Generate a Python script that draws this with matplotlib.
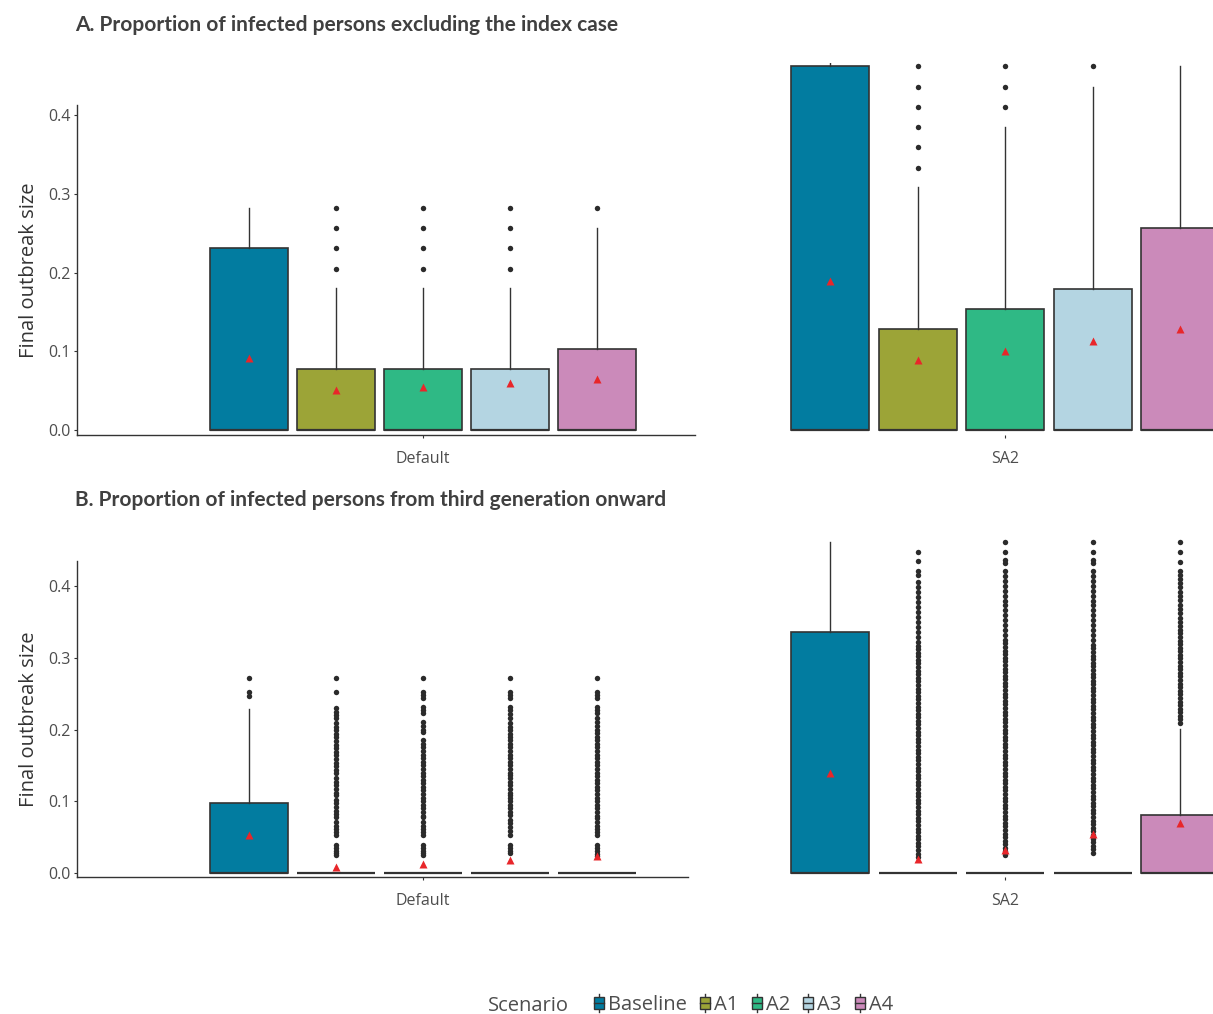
import numpy as np
import matplotlib.pyplot as plt
from matplotlib.legend_handler import HandlerBase
from matplotlib.patches import Rectangle
from matplotlib.lines import Line2D

plt.rcParams['font.family'] = ['Open Sans', 'DejaVu Sans']

W, H = 1213, 1014

scenarios = ['Baseline', 'A1', 'A2', 'A3', 'A4']
colors = ['#027ca0', '#9ca437', '#2fb985', '#b4d5e2', '#cb8aba']

# A: proportion infected excluding the index case -- Default
a_def_q3 = [0.231, 0.077, 0.077, 0.077, 0.103]
a_def_whi = [0.282, 0.180, 0.180, 0.180, 0.256]
a_def_mean = [0.091, 0.051, 0.055, 0.060, 0.065]
a_def_out = [[], [282, 256, 231, 205], [282, 256, 231, 205],
             [282, 256, 231, 205], [282]]

# A -- SA2
a_sa2_q3 = [0.462, 0.128, 0.154, 0.179, 0.256]
a_sa2_whi = [0.487, 0.308, 0.385, 0.436, 0.462]
a_sa2_mean = [0.189, 0.089, 0.100, 0.113, 0.128]
a_sa2_out = [[], [333, 359, 385, 410, 436, 462], [410, 436, 462], [462], []]

# B: proportion infected from third generation onward -- Default
b_def_q3 = [0.097, 0.0, 0.0, 0.0, 0.0]
b_def_whi = [0.229, 0.0, 0.0, 0.0, 0.0]
b_def_mean = [0.053, 0.009, 0.012, 0.018, 0.023]
b_def_out = [
    [272, 252, 247],
    [272, 252, 230, 225, 220, 216, 209, 204, 199, 194, 189, 184, 179, 174,
     169, 164, 159, 154, 149, 144, 139, 132, 127, 122, 117, 112, 109, 102,
     97, 92, 87, 82, 78, 71, 66, 61, 57, 53, 39, 35, 31, 28, 25],
    [272, 252, 248, 244, 231, 227, 223, 210, 205, 200, 196, 185, 180, 175,
     170, 165, 160, 155, 150, 145, 140, 135, 130, 125, 120, 115, 110, 105,
     100, 95, 90, 85, 80, 78, 71, 66, 61, 57, 53, 39, 35, 31, 28, 25],
    [272, 252, 248, 244, 231, 227, 222, 216, 209, 204, 199, 194, 190, 185,
     180, 175, 170, 165, 160, 155, 150, 145, 140, 137, 132, 127, 122, 117,
     112, 109, 105, 100, 95, 90, 85, 81, 74, 69, 64, 59, 53, 39, 35, 31, 28],
    [272, 252, 248, 244, 231, 227, 223, 216, 210, 205, 200, 195, 190, 185,
     180, 175, 170, 165, 160, 155, 150, 145, 140, 135, 130, 125, 120, 115,
     110, 105, 100, 95, 90, 85, 80, 77, 71, 66, 61, 57, 53, 39, 35, 31, 27, 24],
]

# B -- SA2
b_sa2_q3 = [0.3355, 0.0, 0.0, 0.0, 0.081]
b_sa2_whi = [0.462, 0.0, 0.0, 0.0, 0.201]
b_sa2_mean = [0.140, 0.020, 0.032, 0.054, 0.069]
b_sa2_out = [
    [],
    [447, 435, 421, 415, 406, 399, 392, 385, 378, 371, 364, 357, 350, 343,
     336, 329, 322, 317, 312, 307, 302, 297, 292, 287, 282, 277, 272, 267,
     262, 257, 252, 247, 242, 237, 232, 227, 222, 217, 212, 207, 202, 197,
     192, 187, 182, 177, 172, 167, 162, 157, 152, 147, 142, 137, 132, 127,
     122, 117, 112, 107, 102, 97, 92, 87, 82, 77, 72, 67, 62, 57, 52, 47,
     42, 37, 32, 27, 22],
    [462, 448, 436, 432, 421, 414, 407, 400, 393, 386, 379, 374, 367, 360,
     353, 346, 339, 332, 325, 320, 315, 310, 305, 300, 295, 290, 285, 280,
     275, 270, 265, 260, 255, 250, 245, 240, 235, 230, 225, 220, 215, 210,
     205, 200, 195, 190, 185, 180, 175, 170, 165, 160, 155, 150, 145, 140,
     135, 130, 125, 120, 115, 110, 105, 100, 95, 90, 85, 80, 75, 70, 65, 60,
     55, 50, 45, 40, 35, 30, 25],
    [462, 448, 436, 432, 421, 414, 407, 400, 393, 386, 379, 374, 367, 360,
     353, 346, 339, 332, 325, 318, 313, 308, 303, 298, 293, 288, 283, 278,
     273, 268, 263, 258, 253, 248, 243, 238, 233, 228, 223, 218, 213, 208,
     203, 198, 193, 188, 183, 178, 173, 168, 163, 158, 153, 148, 143, 138,
     133, 128, 123, 118, 113, 108, 103, 98, 93, 88, 83, 78, 73, 68, 63, 58,
     53, 48, 43, 38, 33, 28],
    [462, 448, 434, 421, 416, 410, 404, 398, 392, 386, 380, 374, 368, 362,
     356, 350, 344, 339, 334, 329, 324, 319, 314, 309, 304, 299, 294, 289,
     284, 279, 274, 269, 264, 259, 254, 249, 244, 239, 234, 229, 224, 219,
     214, 209],
]

DARK = '#333333'
TXT = '#4d4d4d'


def add_axes_px(left, top, right, bottom):
    return fig.add_axes([left / W, 1 - bottom / H, (right - left) / W, (bottom - top) / H])


def draw_boxes(ax, q3, whi, mean, out, spacing):
    stats = []
    for i in range(len(scenarios)):
        stats.append(dict(med=0.0, q1=0.0, q3=q3[i], whislo=0.0, whishi=whi[i],
                          mean=mean[i], fliers=np.array(out[i]) / 1000.0))
    pos = [(i - 2) for i in range(len(scenarios))]
    res = ax.bxp(stats, positions=pos, widths=78 / spacing, patch_artist=True,
                 showmeans=True, showcaps=False,
                 boxprops=dict(edgecolor=DARK, linewidth=1.2),
                 whiskerprops=dict(color=DARK, linewidth=1.0),
                 medianprops=dict(color=DARK, linewidth=1.6),
                 meanprops=dict(marker='^', markerfacecolor='#e8262a',
                                markeredgecolor='none', markersize=5.5),
                 flierprops=dict(marker='o', markerfacecolor='#2b2b2b',
                                 markeredgecolor='none', markersize=3.9))
    for patch, c in zip(res['boxes'], colors):
        patch.set_facecolor(c)


def style_left(ax, label):
    ax.spines[['top', 'right']].set_visible(False)
    for s in ['left', 'bottom']:
        ax.spines[s].set_color(DARK)
        ax.spines[s].set_linewidth(1.0)
    ax.set_yticks([0.0, 0.1, 0.2, 0.3, 0.4])
    ax.set_yticklabels(['0.0', '0.1', '0.2', '0.3', '0.4'])
    ax.set_xticks([0])
    ax.set_xticklabels([label])
    ax.tick_params(axis='both', length=2.5, width=0.8, color=DARK,
                   labelcolor=TXT, labelsize=11.5)
    ax.tick_params(axis='x', pad=9)
    ax.tick_params(axis='y', pad=2)
    ax.set_ylabel('Final outbreak size', fontsize=14.5, color='#333333', labelpad=7)


def style_right(ax, label):
    for s in ['top', 'right', 'left', 'bottom']:
        ax.spines[s].set_visible(False)
    ax.set_yticks([])
    ax.set_xticks([0])
    ax.set_xticklabels([label])
    ax.tick_params(axis='x', length=2.5, width=0.8, color=DARK,
                   labelcolor=TXT, labelsize=11.5, pad=9)


fig = plt.figure(figsize=(W / 100, H / 100), dpi=100)

# panel A
ax = add_axes_px(77, 105, 695, 435)
draw_boxes(ax, a_def_q3, a_def_whi, a_def_mean, a_def_out, 87)
ax.set_xlim((77 - 423) / 87, (695 - 423) / 87)
ax.set_ylim(-5 / 787.5, 325 / 787.5)
style_left(ax, 'Default')

ax = add_axes_px(780, 63, 1213, 435)
draw_boxes(ax, a_sa2_q3, a_sa2_whi, a_sa2_mean, a_sa2_out, 87.5)
ax.set_xlim((780 - 1005) / 87.5, (1213 - 1005) / 87.5)
ax.set_ylim(-5 / 787.5, 367 / 787.5)
style_right(ax, 'SA2')

# panel B
ax = add_axes_px(77, 561, 688, 877)
draw_boxes(ax, b_def_q3, b_def_whi, b_def_mean, b_def_out, 87)
ax.set_xlim((77 - 423) / 87, (688 - 423) / 87)
ax.set_ylim(-4 / 717.5, 312 / 717.5)
style_left(ax, 'Default')

ax = add_axes_px(780, 539, 1213, 877)
draw_boxes(ax, b_sa2_q3, b_sa2_whi, b_sa2_mean, b_sa2_out, 87.5)
ax.set_xlim((780 - 1005) / 87.5, (1213 - 1005) / 87.5)
ax.set_ylim(-4 / 717.5, 334 / 717.5)
style_right(ax, 'SA2')

title_kw = dict(fontsize=15, fontweight='bold', color='#404040',
                family=['Lato', 'DejaVu Sans'], va='center', ha='left')
fig.text(75 / W, 1 - 25 / H, 'A. Proportion of infected persons excluding the index case', **title_kw)
fig.text(75 / W, 1 - 500 / H, 'B. Proportion of infected persons from third generation onward', **title_kw)


class BoxKey(HandlerBase):
    def create_artists(self, legend, orig_handle, xdescent, ydescent,
                       width, height, fontsize, trans):
        cx = width / 2 - xdescent
        cy = height / 2 - ydescent
        bw, bh = 7, 8
        line = Line2D([cx, cx], [cy - bh / 2 - 2.5, cy + bh / 2 + 2.5],
                      color=DARK, lw=1.0, transform=trans)
        box = Rectangle((cx - bw / 2, cy - bh / 2), bw, bh,
                        facecolor=orig_handle.get_facecolor(),
                        edgecolor=DARK, lw=1.0, transform=trans)
        mid = Line2D([cx - bw / 2, cx + bw / 2], [cy, cy], color=DARK, lw=1.0,
                     transform=trans)
        return [line, box, mid]


handles = [Rectangle((0, 0), 1, 1, facecolor=c) for c in colors]
fig.text(488 / W, 1 - 1006 / H, 'Scenario', fontsize=14.5, color=TXT, va='center', ha='left')
fig.legend(handles, scenarios, handler_map={Rectangle: BoxKey()},
           loc='center left', bbox_to_anchor=(594 / W, 1 - 1005 / H), ncol=5,
           frameon=False, fontsize=14.5, labelcolor=TXT, handlelength=0.5,
           handletextpad=0.2, columnspacing=0.65, borderaxespad=0, borderpad=0)

fig.savefig('out.png', dpi=100)
